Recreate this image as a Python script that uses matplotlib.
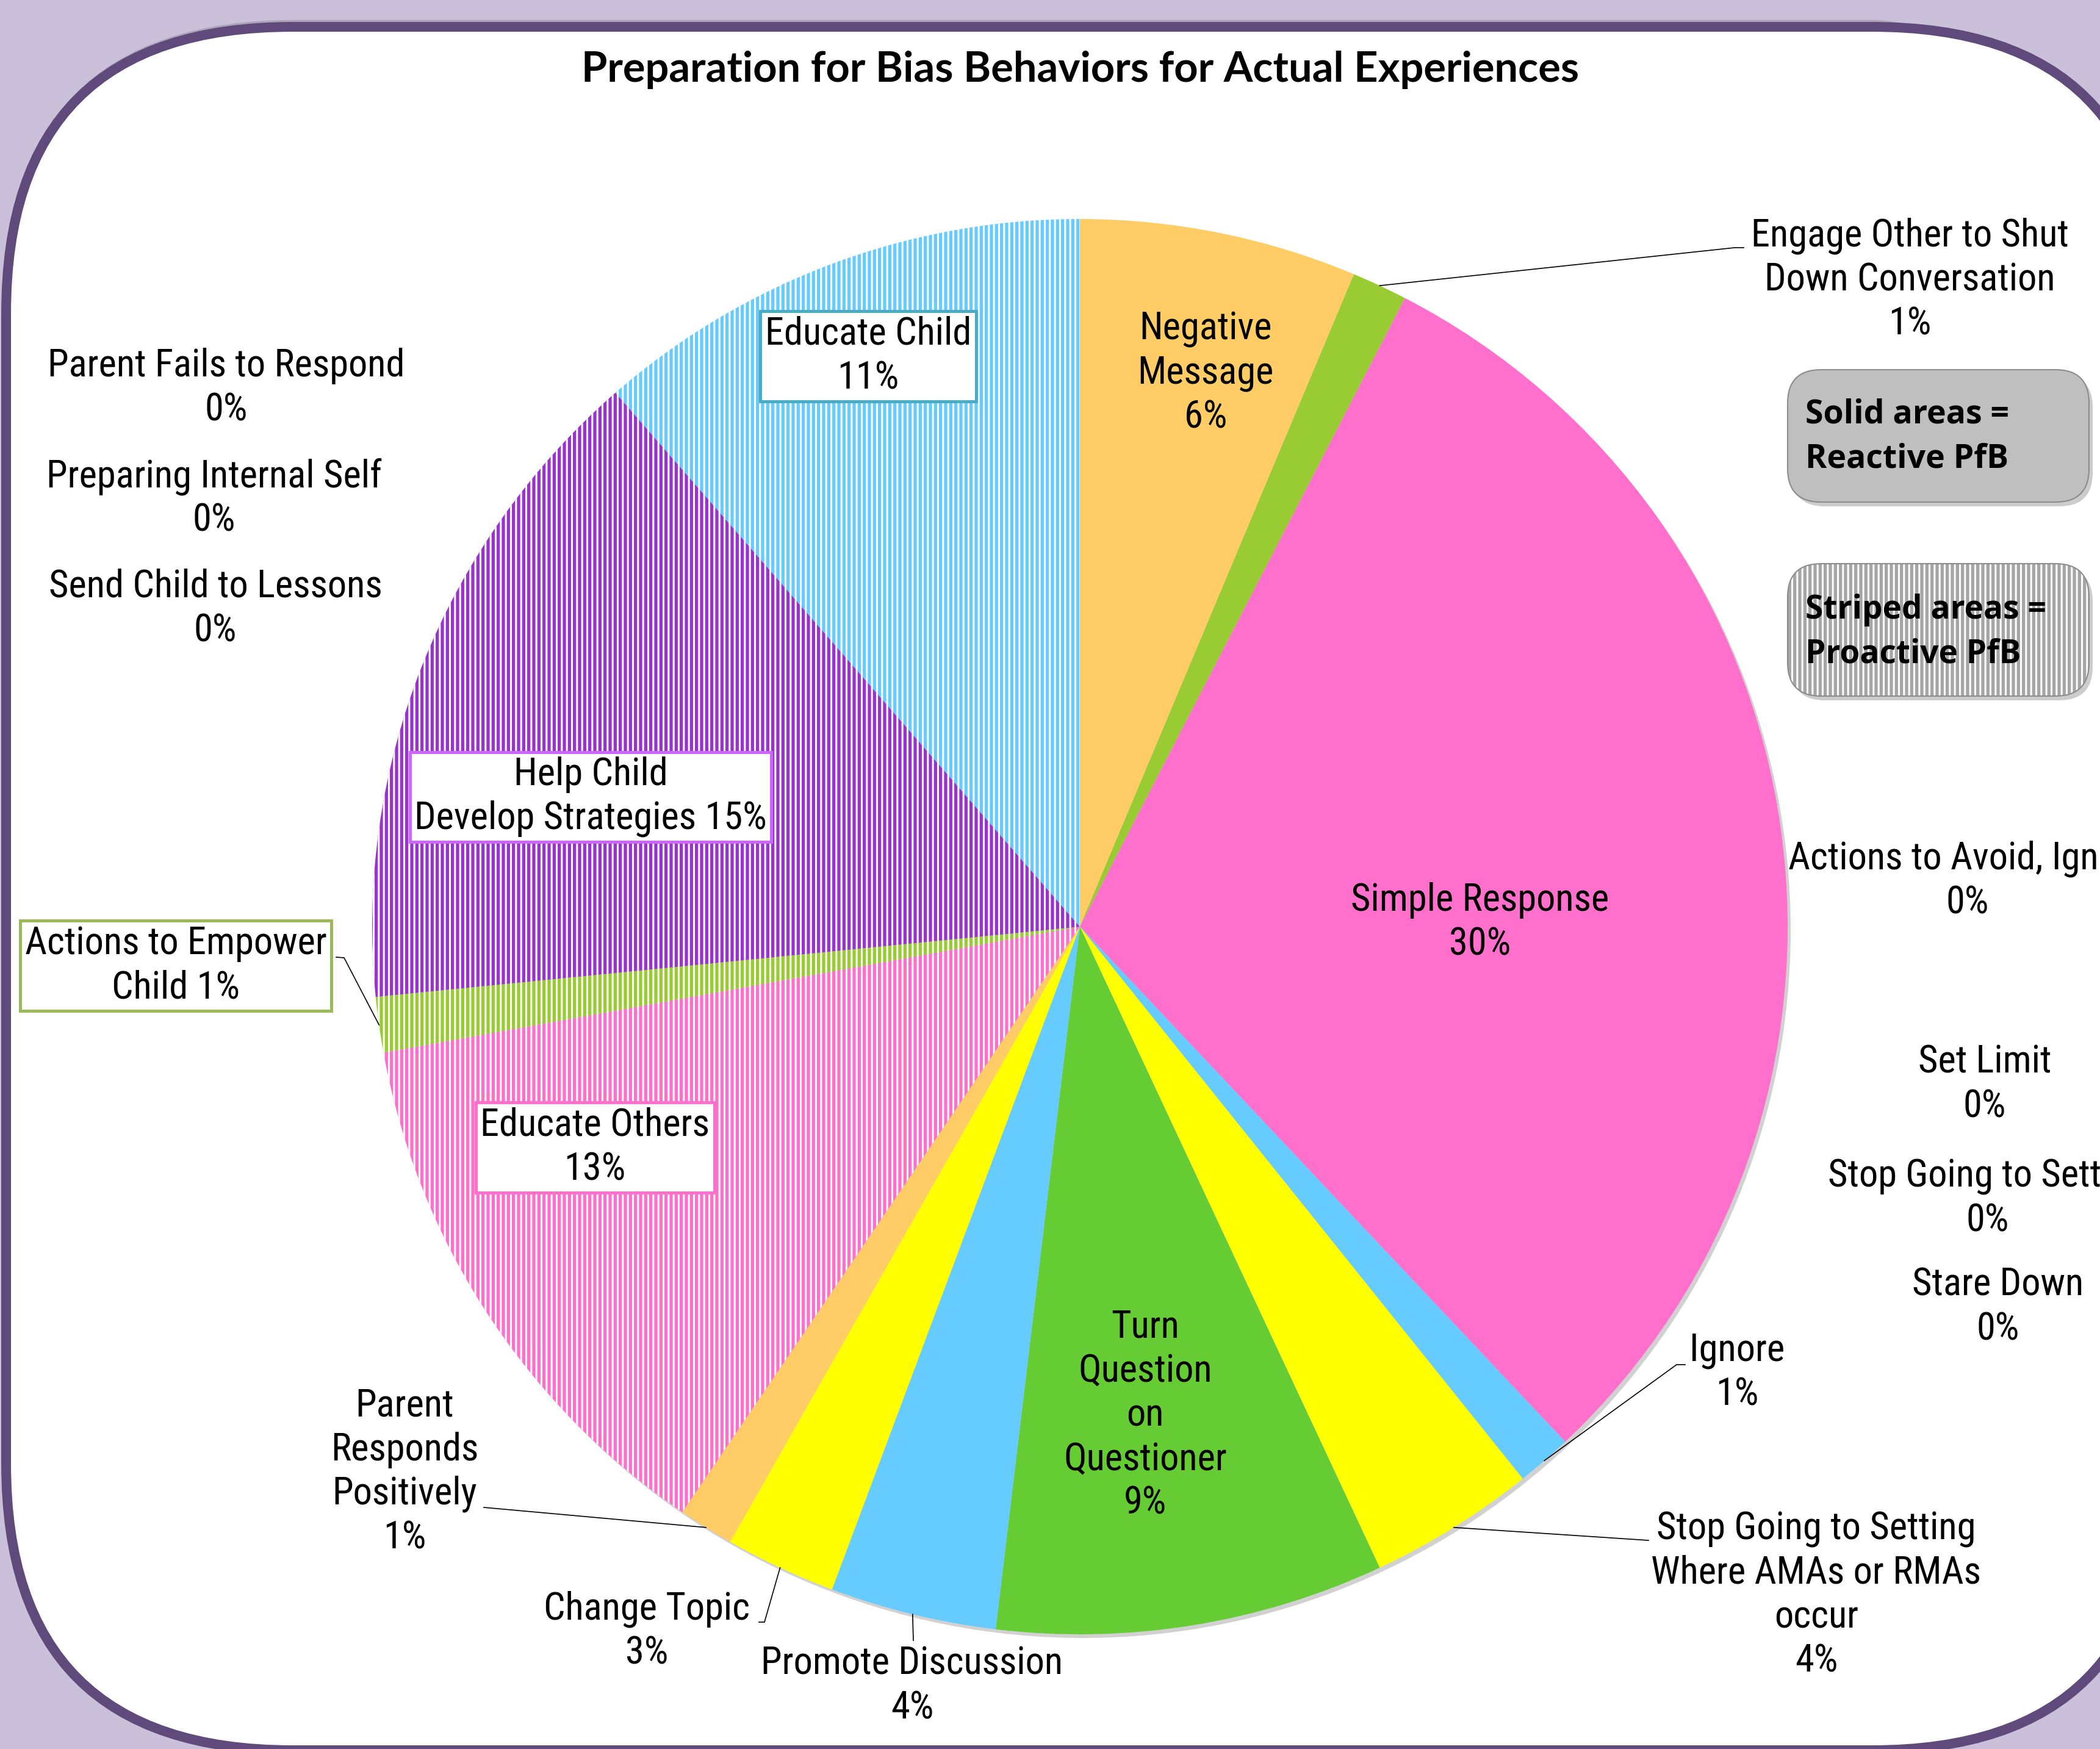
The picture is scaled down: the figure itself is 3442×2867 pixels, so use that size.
import numpy as np
import matplotlib
matplotlib.use("Agg")
import matplotlib.pyplot as plt
from matplotlib import font_manager
from matplotlib.font_manager import FontProperties
from matplotlib.patches import FancyBboxPatch, Circle

# --- CONFIGURATION ---
W, H = 3442, 2867
DPI = 100
plt.rcParams['hatch.linewidth'] = 2.2

# --- DATA (counts of behaviours, clockwise from 12 o'clock) ---
categories = ["Negative Message", "Engage Other to Shut Down Conversation", "Simple Response",
              "Actions to Avoid, Ignore", "Set Limit", "Stop Going to Setting", "Stare Down",
              "Ignore", "Stop Going to Setting Where AMAs or RMAs occur",
              "Turn Question on Questioner", "Promote Discussion", "Change Topic",
              "Parent Responds Positively", "Educate Others", "Actions to Empower Child",
              "Help Child Develop Strategies", "Send Child to Lessons",
              "Preparing Internal Self", "Parent Fails to Respond", "Educate Child"]
counts = [5, 1, 24, 0, 0, 0, 0, 1, 3, 7, 3, 2, 1, 10, 1, 12, 0, 0, 0, 9]
proactive = [False, False, False, False, False, False, False, False, False, False,
             False, False, False, True, True, True, True, True, True, True]
label_fmt = ["Negative\nMessage\n{p}", "Engage Other to Shut\nDown Conversation\n{p}",
             "Simple Response\n{p}", "Actions to Avoid, Ignore\n{p}", "Set Limit\n{p}",
             "Stop Going to Setting\n{p}", "Stare Down\n{p}", "Ignore\n{p}",
             "Stop Going to Setting\nWhere AMAs or RMAs\noccur\n{p}",
             "Turn\nQuestion\non\nQuestioner\n{p}", "Promote Discussion\n{p}",
             "Change Topic\n{p}", "Parent\nResponds\nPositively\n{p}", "Educate Others\n{p}",
             "Actions to Empower\nChild {p}", "Help Child\nDevelop Strategies {p}",
             "Send Child to Lessons\n{p}", "Preparing Internal Self\n{p}",
             "Parent Fails to Respond\n{p}", "Educate Child\n{p}"]
slice_colors = ["#FFCC66", "#99CC33", "#FF6FCC", "#FF6FCC", "#FF6FCC", "#FF6FCC", "#FF6FCC",
                "#66CCFF", "#FFFF00", "#66CC33", "#66CCFF", "#FFFF00", "#FFCC66", "#FF6FCC",
                "#99CC33", "#9933CC", "#9933CC", "#9933CC", "#9933CC", "#66CCFF"]

# --- LAYOUT (pixel positions, y measured from the top) ---
label_pos = [(1976, 612), (3130, 459), (2426, 1512), (3225, 1444), (3253, 1778),
             (3258, 1965), (3275, 2143), (2847, 2250), (2977, 2615), (1877, 2320),
             (1495, 2764), (1060, 2674), (663, 2413), (975, 1881), (288, 1583),
             (968, 1306), (353, 998), (351, 817), (371, 636), (1423, 584)]
box_edge = {13: "#FF6FCC", 14: "#9BBB59", 15: "#CC66FF", 19: "#4BACC6"}
leaders = {1: [(2843, 406), (2858, 406)], 7: [(2748, 2237), (2762, 2237)],
           8: [(2702, 2525)], 10: [(1497, 2689)], 11: [(1253, 2659), (1244, 2659)],
           12: [(793, 2471)], 14: [(564, 1570), (551, 1569)]}
pie_center = (1770, 1519)
pie_radius = 1160


def find_narrow():
    # look for a narrow / condensed sans for the slice labels
    fl = font_manager.fontManager.ttflist
    prefs = ["Liberation Sans Narrow", "Arial Narrow", "Roboto Condensed",
             "Open Sans Condensed", "Noto Sans Condensed", "Noto Sans", "Open Sans",
             "DejaVu Sans", "Roboto"]
    for pref in prefs:
        for f in fl:
            if f.name == pref and f.weight in (400, "normal", "regular") and f.style == "normal":
                fn = f.fname.lower()
                if pref.endswith(("Narrow", "Condensed")) or "condensed" in fn or "narrow" in fn \
                        or f.stretch in ("condensed", "semi-condensed", "extra-condensed"):
                    if "semi" in fn or "extra" in fn or "ultra" in fn:
                        continue
                    return FontProperties(fname=f.fname), True
    return FontProperties(family="Liberation Sans"), False


NARROW_FP, IS_NARROW = find_narrow()
LBL_FS = 45 if IS_NARROW else 37
names = {f.name for f in font_manager.fontManager.ttflist}
TITLE_FONT = "Lato" if "Lato" in names else "DejaVu Sans"
LEG_FONT = "Open Sans" if "Open Sans" in names else "DejaVu Sans"


def px(x, y):
    return (x, H - y)


fig = plt.figure(figsize=(W / DPI, H / DPI), dpi=DPI)
fig.patch.set_facecolor("#CBC0DA")
ax = fig.add_axes([0, 0, 1, 1])

# white panel with purple border
ax.add_patch(FancyBboxPatch(px(13, 2866), 3528, 2825, boxstyle="round,pad=0,rounding_size=470",
                            fc="none", ec="#000000", alpha=0.15, lw=12, zorder=0))
ax.add_patch(FancyBboxPatch(px(10, 2869), 3528, 2825, boxstyle="round,pad=0,rounding_size=470",
                            fc="white", ec="#604A7B", lw=11.5, zorder=1))

# pie
cx, cy = px(*pie_center)
ax.add_patch(Circle((cx + 5, cy - 6), pie_radius, fc="#000000", alpha=0.18, lw=0, zorder=2))
wedges, _ = ax.pie(counts, colors=slice_colors, startangle=90, counterclock=False,
                   center=(cx, cy), radius=pie_radius, frame=True,
                   wedgeprops=dict(linewidth=0, zorder=3))
for w, striped in zip(wedges, proactive):
    w.set_zorder(3)
    if striped:
        w.set_edgecolor("white")
        w.set_linewidth(0)
        w.set_hatch("||")

total = sum(counts)
for i, (name, v) in enumerate(zip(categories, counts)):
    pct = f"{int(round(100 * v / total))}%"
    text = label_fmt[i].format(p=pct)
    x, y = px(*label_pos[i])
    bbox = None
    if i in box_edge:
        bbox = dict(boxstyle="square,pad=0.12", fc="white", ec=box_edge[i], lw=3.6)
    ax.text(x, y, text, ha="center", va="center", fontproperties=NARROW_FP, fontsize=LBL_FS,
            linespacing=1.26, multialignment="center", bbox=bbox, zorder=6)
    if i in leaders:
        th = np.deg2rad((wedges[i].theta1 + wedges[i].theta2) / 2)
        xs = [cx + pie_radius * np.cos(th)] + [p[0] for p in leaders[i]]
        ys = [cy + pie_radius * np.sin(th)] + [H - p[1] for p in leaders[i]]
        ax.plot(xs, ys, color="black", lw=1.2, zorder=5)

# legend boxes
for (bx, by), striped in [((2930, 823), False), ((2930, 1141), True)]:
    ax.add_patch(FancyBboxPatch(px(bx + 6, by + 7), 494, 217,
                                boxstyle="round,pad=0,rounding_size=55",
                                fc="#000000", alpha=0.2, lw=0, zorder=4))
    if striped:
        ax.add_patch(FancyBboxPatch(px(bx, by), 494, 217,
                                    boxstyle="round,pad=0,rounding_size=55",
                                    fc="#A6A6A6", ec="white", lw=0, hatch="||", zorder=5))
        ax.add_patch(FancyBboxPatch(px(bx, by), 494, 217,
                                    boxstyle="round,pad=0,rounding_size=55",
                                    fc="none", ec="#8C8C8C", lw=1.5, zorder=5))
    else:
        ax.add_patch(FancyBboxPatch(px(bx, by), 494, 217,
                                    boxstyle="round,pad=0,rounding_size=55",
                                    fc="#BFBFBF", ec="#8C8C8C", lw=1.5, zorder=5))

leg1 = ax.text(*px(2959, 716), "Solid areas =\nReactive PfB", ha="left", va="center",
               fontsize=40, fontweight="bold", family=LEG_FONT, linespacing=1.45, zorder=6)
leg2 = ax.text(*px(2959, 1036), "Striped areas =\nProactive PfB", ha="left", va="center",
               fontsize=40, fontweight="bold", family=LEG_FONT, linespacing=1.45, zorder=6)

title = ax.text(*px(1771, 114), "Preparation for Bias Behaviors for Actual Experiences",
                ha="center", va="center", fontsize=50, fontweight="bold",
                family=TITLE_FONT, zorder=6)

ax.set_xlim(0, W)
ax.set_ylim(0, H)
ax.axis("off")

# fit title and legend widths to the reference
fig.canvas.draw()
rend = fig.canvas.get_renderer()
for t, target in [(title, 1642), (leg1, 334), (leg2, 395)]:
    bw = t.get_window_extent(renderer=rend).width
    t.set_fontsize(t.get_fontsize() * target / bw)

fig.savefig("out.png", dpi=DPI, facecolor=fig.get_facecolor())
